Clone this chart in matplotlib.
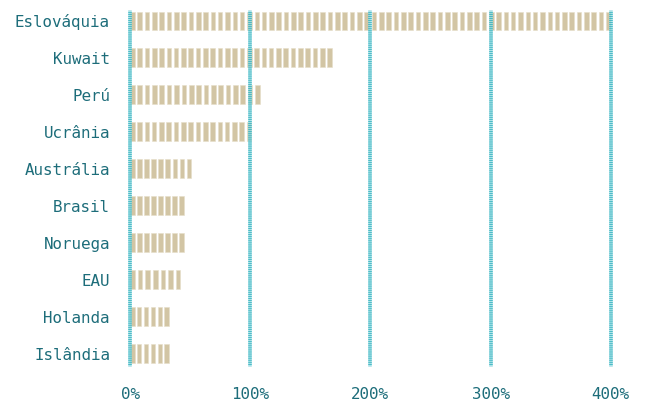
import matplotlib
matplotlib.use("Agg")
import matplotlib.pyplot as plt
from matplotlib.patches import Rectangle

plt.rcParams['lines.scale_dashes'] = False

categories = ["Eslováquia", "Kuwait", "Perú", "Ucrânia", "Austrália",
              "Brasil", "Noruega", "EAU", "Holanda", "Islândia"]
values = [400, 168, 108, 101, 51, 45, 45, 42, 32.5, 32.5]
ticks = [0, 100, 200, 300, 400]
tick_labels = ["0%", "100%", "200%", "300%", "400%"]

W, H = 646, 401
fig = plt.figure(figsize=(W / 100, H / 100), dpi=100)
ax_left, ax_right = 130, 610.7
ax_top, ax_bottom = 11.5, 364.5
ax = fig.add_axes([ax_left / W, (H - ax_bottom) / H,
                   (ax_right - ax_left) / W, (ax_bottom - ax_top) / H])

xmax = 400
ax.set_xlim(0, xmax)
px_per_unit = (ax_right - ax_left) / xmax
band_px = 37.0
ax.set_ylim(9 + (364.5 - 353.8) / band_px, -(21 - 11.5) / band_px)

bar_h = 19 / band_px
stripe_w = 4.6 / px_per_unit
period = 7.3 / px_per_unit
bar_col = "#d2c5a4"

for i, v in enumerate(values):
    n = max(1, int(round((v - stripe_w) / period)) + 1)
    step = (v - stripe_w) / (n - 1) if n > 1 else 0
    for k in range(n):
        x0 = k * step
        ax.add_patch(Rectangle((x0, i - bar_h / 2), stripe_w, bar_h,
                               facecolor=bar_col, edgecolor="#e6dec9",
                               linewidth=0.4, zorder=2))

for t in ticks:
    ax.axvline(t, color="#9adbe2", lw=2.6, zorder=3, alpha=0.8, clip_on=False)
    ax.axvline(t, color="#14a7b6", lw=2.6, zorder=4, dashes=(0.5, 0.9),
               alpha=0.9, clip_on=False)

label_col = "#1d6d7a"
font = "DejaVu Sans Mono"
ax.set_yticks(range(len(categories)))
ax.set_yticklabels(categories, fontsize=11.4, family=font, color=label_col)
ax.set_xticks(ticks)
ax.set_xticklabels(tick_labels, fontsize=11.4, family=font, color=label_col)
ax.tick_params(axis="y", length=0, pad=14.4)
ax.tick_params(axis="x", length=0, pad=16)
for s in ax.spines.values():
    s.set_visible(False)

fig.savefig("out.png", dpi=100)
